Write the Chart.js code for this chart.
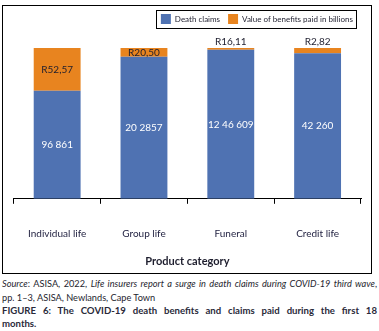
<!DOCTYPE html>
<html>
<head>
<meta charset="utf-8">
<script src="https://cdn.jsdelivr.net/npm/chart.js@4"></script>
<style>
  body { margin: 0; background: #fff; font-family: Lato, "Open Sans", sans-serif; }
  #frame { position: absolute; left: 2px; top: 5px; width: 368px; height: 267px; border: 1px solid #000; }
  #frame canvas { display: block; }
  .cap { position: absolute; left: 2px; width: 375px; color: #1e1e2e; }
  .full { text-align: justify; text-align-last: justify; white-space: nowrap; }
  #src { top: 277px; line-height: 14px; font-size: 9.2px; }
  #fig { top: 304px; line-height: 13px; font-size: 9.6px; font-weight: bold; color: #2a2a3a; }
  #fig .full { white-space: normal; }
</style>
</head>
<body>
<div id="frame"><canvas id="chart" width="368" height="267"></canvas></div>
<div id="src" class="cap"><div class="full"><i>Source</i>: ASISA, 2022, <i>Life insurers report a surge in death claims during COVID-19 third wave</i>,</div><div>pp. 1–3, ASISA, Newlands, Cape Town</div></div>
<div id="fig" class="cap"><div class="full">FIGURE 6: The COVID-19 death benefits and claims paid during the first 18</div><div>months.</div></div>
<script>
const categories = ['Individual life', 'Group life', 'Funeral', 'Credit life'];
// share of each bar (percent of full height)
const deathClaimsShare = [71.7, 94.2, 98.8, 96.5];
const benefitsShare = [28.3, 5.8, 1.2, 3.5];
const deathClaimsLabels = ['96 861', '20 2857', '12 46 609', '42 260'];
const benefitsLabels = ['R52,57', 'R20,50', 'R16,11', 'R2,82'];

const blue = '#4f72b2';
const orange = '#e8841f';
const fontName = 'Lato, "Open Sans", sans-serif';

// extra room between legend and bars
const legendGap = {
  id: 'legendGap',
  beforeInit(chart) {
    const fit = chart.legend.fit;
    chart.legend.fit = function () {
      fit.call(this);
      this.height += 14;
    };
  }
};

// box around the legend
const legendBox = {
  id: 'legendBox',
  afterDraw(chart) {
    const lg = chart.legend;
    if (!lg || !lg.legendHitBoxes.length) return;
    const boxes = lg.legendHitBoxes;
    const x0 = boxes[0].left - 5;
    const last = boxes[boxes.length - 1];
    const x1 = last.left + last.width + 3;
    const y0 = boxes[0].top - 4;
    const y1 = boxes[0].top + boxes[0].height + 4;
    const ctx = chart.ctx;
    ctx.save();
    ctx.strokeStyle = '#000';
    ctx.lineWidth = 1;
    ctx.strokeRect(Math.round(x0) + 0.5, Math.round(y0) + 0.5, Math.round(x1 - x0), Math.round(y1 - y0));
    ctx.restore();
  }
};

// value labels on the bars
const barLabels = {
  id: 'barLabels',
  afterDatasetsDraw(chart) {
    const ctx = chart.ctx;
    ctx.save();
    ctx.font = '10px ' + fontName;
    ctx.textAlign = 'center';
    chart.getDatasetMeta(0).data.forEach((bar, i) => {
      ctx.fillStyle = '#fff';
      ctx.textBaseline = 'middle';
      ctx.fillText(deathClaimsLabels[i], bar.x, (bar.y + bar.base) / 2);
    });
    chart.getDatasetMeta(1).data.forEach((bar, i) => {
      ctx.fillStyle = '#1e1e2e';
      const h = bar.base - bar.y;
      if (h < 8) {
        ctx.textBaseline = 'bottom';
        ctx.fillText(benefitsLabels[i], bar.x, bar.y - 1);
      } else {
        ctx.textBaseline = 'middle';
        ctx.fillText(benefitsLabels[i], bar.x, (bar.y + bar.base) / 2);
      }
    });
    ctx.restore();
  }
};

new Chart(document.getElementById('chart'), {
  type: 'bar',
  data: {
    labels: categories,
    datasets: [
      { label: 'Death claims', data: deathClaimsShare, backgroundColor: blue, barPercentage: 0.54, categoryPercentage: 1 },
      { label: 'Value of benefits paid in billions', data: benefitsShare, backgroundColor: orange, barPercentage: 0.54, categoryPercentage: 1 }
    ]
  },
  options: {
    responsive: false,
    animation: false,
    layout: { padding: { left: 8, right: 10, top: 0, bottom: 1 } },
    plugins: {
      legend: {
        position: 'top',
        align: 'end',
        labels: {
          boxWidth: 10,
          boxHeight: 10,
          padding: 8,
          color: '#1e1e2e',
          font: { family: fontName, size: 8 }
        }
      },
      tooltip: { enabled: false }
    },
    scales: {
      x: {
        stacked: true,
        border: { display: true, color: '#000', width: 1 },
        grid: { display: true, drawOnChartArea: false, drawTicks: true, tickLength: 5, color: '#000' },
        ticks: { color: '#1e1e3e', font: { family: fontName, size: 10 }, padding: 24 },
        title: { display: true, text: 'Product category', color: '#1e1e2e', font: { family: fontName, size: 11, weight: 'bold' }, padding: { top: -9, bottom: 4 } }
      },
      y: {
        stacked: true,
        display: false,
        min: 0,
        max: 100
      }
    }
  },
  plugins: [legendGap, legendBox, barLabels]
});
</script>
</body>
</html>
